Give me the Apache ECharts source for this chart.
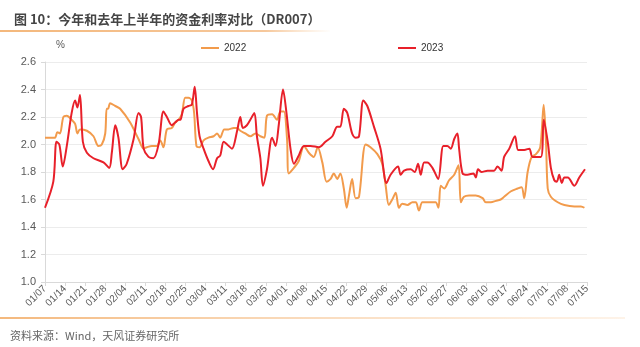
<!DOCTYPE html>
<html>
<head>
<meta charset="utf-8">
<script src="https://cdn.jsdelivr.net/npm/echarts@6/dist/echarts.min.js"></script>
<style>
html,body{margin:0;padding:0;background:#fff;}
#c{width:640px;height:347px;}
</style>
</head>
<body>
<div id="c"></div>
<script>
// Tick labels (weekly, starting 01/07)
var tickLabels = ['01/07','01/14','01/21','01/28','02/04','02/11','02/18','02/25','03/04','03/11','03/18','03/25','04/01','04/08','04/15','04/22','04/29','05/06','05/13','05/20','05/27','06/03','06/10','06/17','06/24','07/01','07/08','07/15'];

// 2022 DR007: day offset from 01/07 and value (%)
var days2022 = [0,2,3.5,4.3,5.2,6.4,7.6,9.3,10.5,11.3,12.2,14.6,16.9,18.6,19.8,21,21.5,22,22.7,24.5,26.2,29.7,32.6,34.4,35.5,37.3,39,40.2,41.3,42.5,44.2,45.4,46.6,47.7,48.9,50,51.2,52,52.8,53.9,55.3,57,58.8,60,61.1,62.5,64,65.8,66.9,68.1,69.9,71.6,73.4,75.1,76.5,77.4,79.2,80.9,82.1,83.3,84.4,85,86.8,88.5,90.3,92,93.7,95.1,96.7,98.2,99.6,100.7,101.9,103,104.2,105.2,106,107.1,108.3,109.5,111.8,113.5,115.9,117.6,118.8,119.9,121.1,122.3,123.4,124.6,126.4,128.1,129.3,130.4,131.6,133.9,136.2,137.2,138,139.2,140.9,142.7,144.2,145,146.1,147.9,150.2,152.6,153.7,155.5,157.2,158.9,160.1,162.5,164.8,166.2,167.1,168.3,169.7,171.2,172.7,173.9,174.7,175.3,176.4,178.8,181.1,184.6,186.9,188.1];
var vals2022 = [2.05,2.05,2.05,2.09,2.08,2.20,2.21,2.18,2.15,2.08,2.11,2.10,2.06,1.99,2.00,2.08,2.26,2.26,2.30,2.28,2.26,2.16,2.04,1.97,1.98,1.99,1.99,2.03,1.98,2.11,2.12,2.16,2.18,2.22,2.34,2.34,2.32,2.23,1.99,1.98,2.03,2.05,2.06,2.08,2.05,2.11,2.11,2.12,2.12,2.10,2.08,2.06,2.08,2.06,2.05,2.21,2.22,2.18,2.24,2.24,2.04,1.79,1.83,1.88,1.99,1.94,1.91,1.98,1.87,1.73,1.75,1.79,1.75,1.79,1.68,1.54,1.63,1.75,1.61,1.62,2.00,1.98,1.93,1.86,1.70,1.56,1.60,1.65,1.54,1.57,1.56,1.58,1.58,1.52,1.58,1.58,1.58,1.54,1.70,1.68,1.74,1.78,1.85,1.58,1.62,1.63,1.63,1.61,1.58,1.58,1.59,1.60,1.62,1.66,1.68,1.69,1.61,1.80,1.91,1.93,1.98,2.29,2.02,1.68,1.62,1.58,1.56,1.55,1.55,1.54];

// 2023 DR007
var days2023 = [0,2.9,4,5,6.2,7.6,9.3,10.5,11.3,12.2,13.2,14.6,16.9,20.4,22.4,23.3,24.5,25.6,27.1,28.5,30.9,32.6,33.5,34.4,36.1,37.8,39.6,41.3,42.5,44.2,45.4,46.6,47.2,48.3,50,51.2,52.2,53,53.9,55.3,57,58.6,60,61.1,62.3,63.5,65.2,67,68.1,69,70.4,71.6,73,73.9,75.1,76,77.4,79.2,80.4,81.5,83,84.2,85.6,86.8,88.5,90.3,92.6,95.5,97.8,100.2,101.9,103,104.2,105.4,107.1,108.3,109.5,111,112.4,114.7,117,119.1,120.5,123.1,124,125.2,127.5,128.9,130.1,131,132.2,133.3,135.1,137.1,138.9,140.3,141.5,142.7,143.8,144.4,145.6,147.3,149.4,150.2,151,152.2,154.3,156.6,157.8,159.2,160.1,161.9,163.9,165,167.1,168.9,170,172.9,173.9,175.3,176.4,177.6,178.5,179.3,180.2,181.1,182.3,184.6,186.3,188.3];
var vals2023 = [1.54,1.73,2.02,2.00,1.84,1.99,2.23,2.32,2.27,2.36,2.02,1.94,1.90,1.87,1.83,1.94,2.14,2.05,1.82,1.86,2.04,2.23,2.20,1.97,1.91,1.90,2.00,2.24,2.20,2.14,2.16,2.18,2.18,2.26,2.28,2.29,2.42,2.23,2.06,1.97,1.88,1.82,1.90,1.92,2.02,2.00,1.97,2.10,2.20,2.12,2.14,2.18,2.23,2.06,1.90,1.70,1.82,2.05,1.99,2.14,2.40,2.23,1.97,1.86,1.92,1.99,1.99,1.98,2.02,2.06,2.13,2.13,2.26,2.23,2.08,2.05,2.06,2.32,2.28,2.13,1.97,1.72,1.78,1.84,1.78,1.81,1.82,1.80,1.86,1.78,1.87,1.87,1.83,1.75,1.99,1.99,1.97,2.04,2.08,1.97,1.79,1.78,1.79,1.76,1.82,1.80,1.81,1.81,1.84,1.81,1.91,1.97,2.06,1.96,1.96,1.97,1.91,1.91,2.18,2.02,1.83,1.74,1.73,1.78,1.72,1.76,1.76,1.70,1.76,1.82];

function pairs(d, v){ var out=[]; for(var i=0;i<d.length;i++){ out.push([d[i], v[i]]); } return out; }

var FONT = '"Noto Sans CJK SC","Noto Sans",sans-serif';
var chart = echarts.init(document.getElementById('c'), null, {renderer:'canvas'});
chart.setOption({
  animation:false,
  backgroundColor:'#ffffff',
  textStyle:{fontFamily:FONT},
  title:{
    text:'图 10：今年和去年上半年的资金利率对比（DR007）',
    left:9, top:8,
    textStyle:{fontSize:13, fontWeight:'bold', color:'#454545', fontFamily:FONT}
  },
  legend:[
    {data:['2022'], left:196, top:38, icon:'rect', itemWidth:18, itemHeight:2, textStyle:{fontSize:10, color:'#333', fontFamily:'Liberation Sans, Arial, sans-serif'}},
    {data:['2023'], left:393, top:38, icon:'rect', itemWidth:18, itemHeight:2, textStyle:{fontSize:10, color:'#333', fontFamily:'Liberation Sans, Arial, sans-serif'}}
  ],
  grid:{left:45, right:53, top:62, bottom:65, containLabel:false},
  xAxis:{
    type:'value', min:0, max:189, interval:7,
    axisLine:{show:true, lineStyle:{color:'#d9d9d9'}},
    axisTick:{show:true, length:4, lineStyle:{color:'#d9d9d9'}},
    splitLine:{show:false},
    axisLabel:{
      rotate:45, fontSize:10, color:'#595959', margin:5,
      fontFamily:'Liberation Sans, Arial, sans-serif',
      formatter:function(v){ return tickLabels[Math.round(v/7)] || ''; }
    }
  },
  yAxis:{
    type:'value', min:1.0, max:2.6, interval:0.2,
    axisLine:{show:true, lineStyle:{color:'#d9d9d9'}},
    axisTick:{show:true, length:4, lineStyle:{color:'#d9d9d9'}},
    splitLine:{show:true, lineStyle:{color:'#ececec'}},
    axisLabel:{
      fontSize:11, color:'#595959', margin:9,
      fontFamily:'Liberation Sans, Arial, sans-serif',
      formatter:function(v){ return v.toFixed(1); }
    }
  },
  series:[
    {name:'2022', type:'line', data:pairs(days2022, vals2022), smooth:0.3, showSymbol:false, symbol:'none',
     lineStyle:{color:'#F29B4C', width:2}, itemStyle:{color:'#F29B4C'}, z:2},
    {name:'2023', type:'line', data:pairs(days2023, vals2023), smooth:0.3, showSymbol:false, symbol:'none',
     lineStyle:{color:'#E8202A', width:2}, itemStyle:{color:'#E8202A'}, z:3}
  ],
  graphic:[
    {type:'line', shape:{x1:0, y1:31, x2:330, y2:31}, style:{lineWidth:1.5,
      stroke:new echarts.graphic.LinearGradient(0,0,1,0,[{offset:0,color:'#F0A050'},{offset:0.8,color:'#F3B57A'},{offset:1,color:'rgba(248,200,150,0)'}])}},
    {type:'line', shape:{x1:0, y1:318, x2:625, y2:318}, style:{lineWidth:1.5,
      stroke:new echarts.graphic.LinearGradient(0,0,1,0,[{offset:0,color:'#F0A050'},{offset:1,color:'rgba(250,215,180,0.4)'}])}},
    {type:'text', left:56, top:40, style:{text:'%', fontSize:10, fill:'#595959', fontFamily:'Liberation Sans, Arial, sans-serif'}},
    {type:'text', left:10, top:330, style:{text:'资料来源：Wind，天风证券研究所', fontSize:11, fill:'#666666', fontFamily:FONT}}
  ]
});
</script>
</body>
</html>
